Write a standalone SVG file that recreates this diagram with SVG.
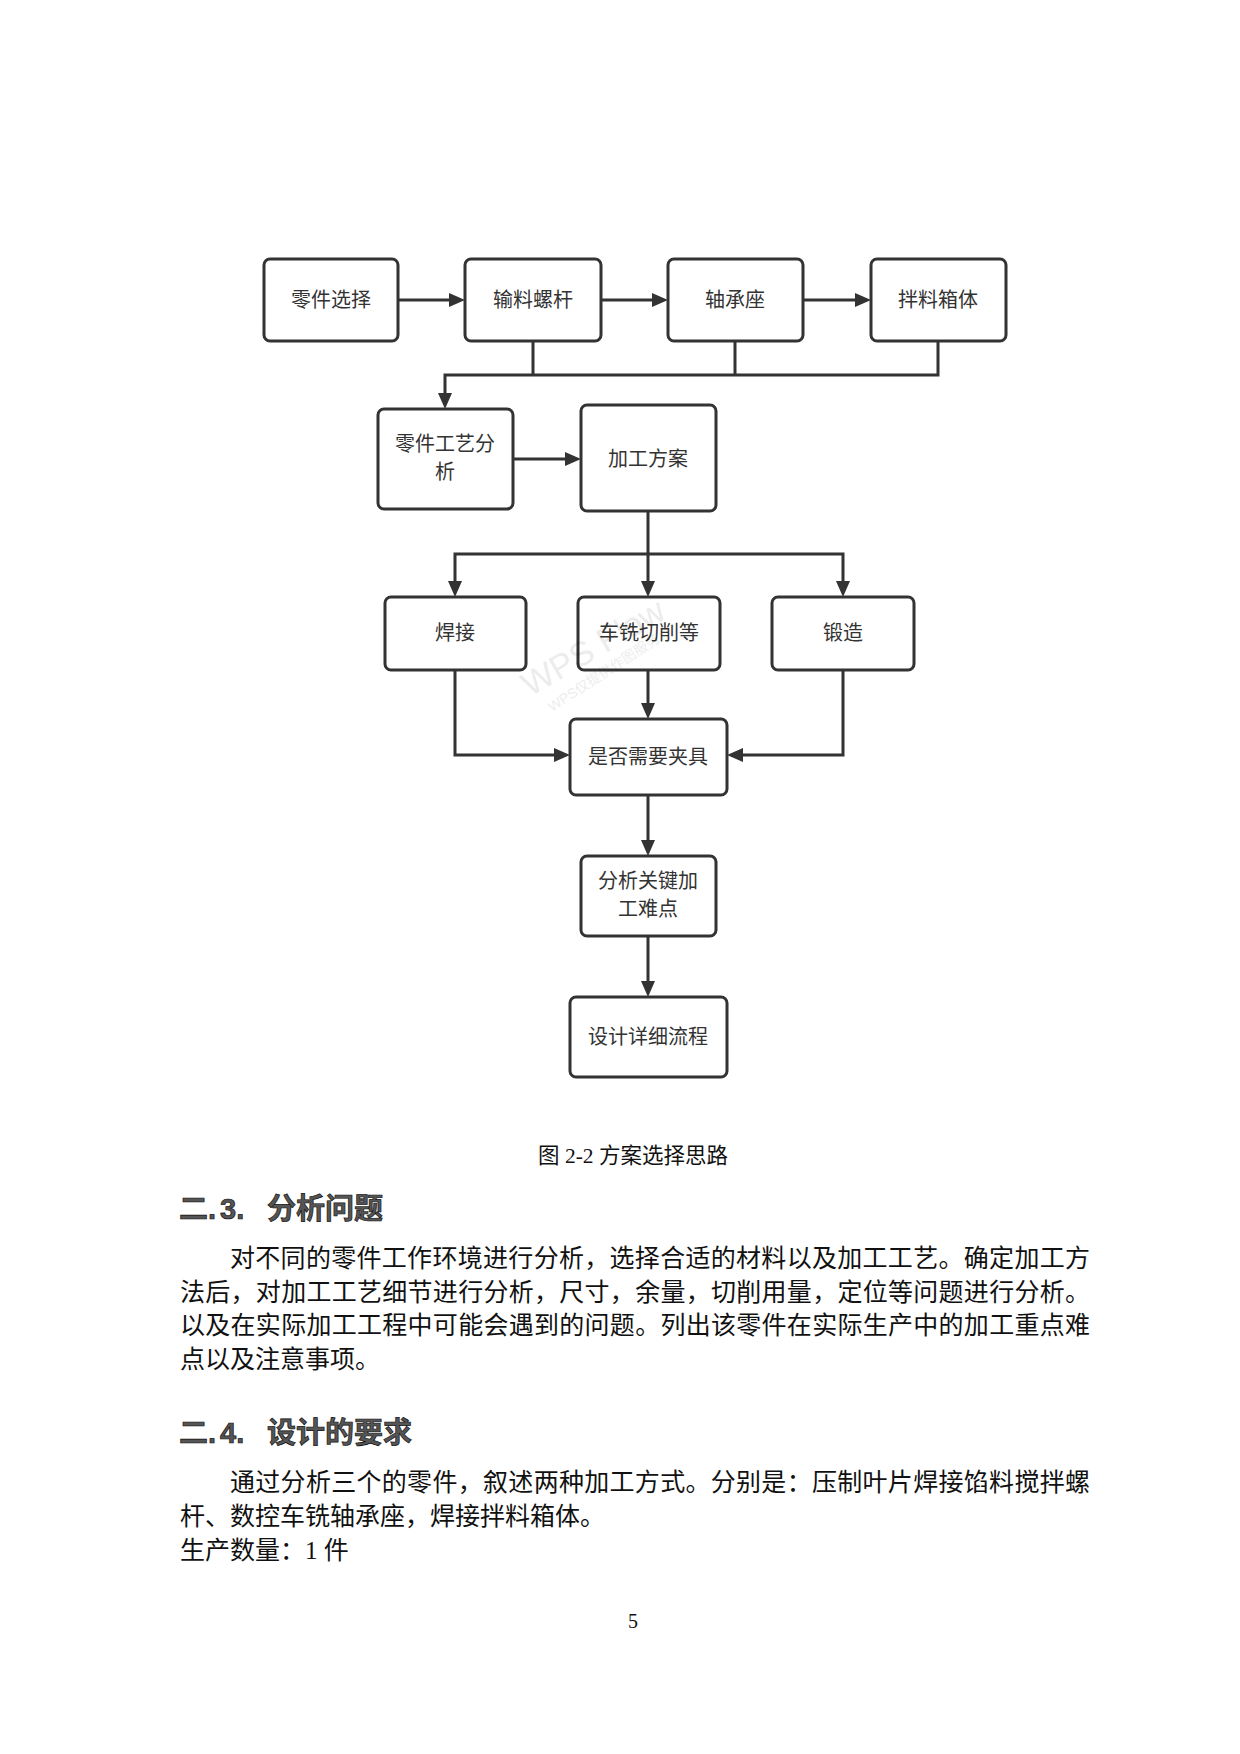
<svg xmlns="http://www.w3.org/2000/svg" width="1240" height="1754" viewBox="0 0 1240 1754">
<style>
.box{fill:#fff;stroke:#333;stroke-width:3}
.lbl{font-family:"Noto Sans CJK SC",sans-serif;font-size:20px;fill:#333;text-anchor:middle}
.ln{fill:none;stroke:#333;stroke-width:3}
.body{font-family:"Liberation Serif","Noto Sans CJK SC",serif;font-size:25px;fill:#111}
.hd{font-family:"Liberation Sans","Noto Sans CJK SC",sans-serif;font-size:29px;font-weight:bold;fill:#555;stroke:#111;stroke-width:0.7}
.wm{font-family:"Liberation Sans","Noto Sans CJK SC",sans-serif;fill:#000;opacity:0.07}
</style>
<defs>
<marker id="ah" markerUnits="userSpaceOnUse" markerWidth="16" markerHeight="14" refX="6" refY="7" orient="auto">
<path d="M0,0 L16,7 L0,14 z" fill="#333"/>
</marker>
</defs>
<rect width="1240" height="1754" fill="#fff"/>

<g id="connectors">
<path class="ln" d="M398,300 H455" marker-end="url(#ah)"/>
<path class="ln" d="M601,300 H658" marker-end="url(#ah)"/>
<path class="ln" d="M803,300 H861" marker-end="url(#ah)"/>
<path class="ln" d="M533,341 V375"/>
<path class="ln" d="M735,341 V375"/>
<path class="ln" d="M938,341 V375 H445 V399" marker-end="url(#ah)"/>
<path class="ln" d="M513,459 H571" marker-end="url(#ah)"/>
<path class="ln" d="M648,511 V587" marker-end="url(#ah)"/>
<path class="ln" d="M648,554 H455 V587" marker-end="url(#ah)"/>
<path class="ln" d="M648,554 H843 V587" marker-end="url(#ah)"/>
<path class="ln" d="M455,670 V755 H560" marker-end="url(#ah)"/>
<path class="ln" d="M648,670 V709" marker-end="url(#ah)"/>
<path class="ln" d="M843,670 V755 H737" marker-end="url(#ah)"/>
<path class="ln" d="M648,795 V846" marker-end="url(#ah)"/>
<path class="ln" d="M648,936 V987" marker-end="url(#ah)"/>
</g>

<g id="n1"><rect class="box" x="264" y="259" width="134" height="82" rx="6"/><text class="lbl" x="331" y="307">零件选择</text></g>
<g id="n2"><rect class="box" x="465" y="259" width="136" height="82" rx="6"/><text class="lbl" x="533" y="307">输料螺杆</text></g>
<g id="n3"><rect class="box" x="668" y="259" width="135" height="82" rx="6"/><text class="lbl" x="735" y="307">轴承座</text></g>
<g id="n4"><rect class="box" x="871" y="259" width="135" height="82" rx="6"/><text class="lbl" x="938" y="307">拌料箱体</text></g>
<g id="n5"><rect class="box" x="378" y="409" width="135" height="100" rx="6"/><text class="lbl" x="445" y="451">零件工艺分</text><text class="lbl" x="445" y="479">析</text></g>
<g id="n6"><rect class="box" x="581" y="405" width="135" height="106" rx="6"/><text class="lbl" x="648" y="466">加工方案</text></g>
<g id="n7"><rect class="box" x="385" y="597" width="141" height="73" rx="6"/><text class="lbl" x="455" y="640">焊接</text></g>
<g id="n8"><rect class="box" x="578" y="597" width="142" height="73" rx="6"/><text class="lbl" x="649" y="640">车铣切削等</text></g>
<g id="n9"><rect class="box" x="772" y="597" width="142" height="73" rx="6"/><text class="lbl" x="843" y="640">锻造</text></g>
<g id="n10"><rect class="box" x="570" y="719" width="157" height="76" rx="6"/><text class="lbl" x="648" y="764">是否需要夹具</text></g>
<g id="n11"><rect class="box" x="581" y="856" width="135" height="80" rx="6"/><text class="lbl" x="648" y="888">分析关键加</text><text class="lbl" x="648" y="916">工难点</text></g>
<g id="n12"><rect class="box" x="570" y="997" width="157" height="80" rx="6"/><text class="lbl" x="648" y="1044">设计详细流程</text></g>

<text class="body" style="font-size:21.5px" x="633" y="1163" text-anchor="middle">图 2-2 方案选择思路</text>

<text class="hd" y="1219"><tspan x="179">二.</tspan><tspan x="220">3.</tspan><tspan x="267">分析问题</tspan></text>
<text class="body" x="230" y="1267" textLength="860" lengthAdjust="spacing">对不同的零件工作环境进行分析，选择合适的材料以及加工工艺。确定加工方</text>
<text class="body" x="180" y="1301" textLength="910" lengthAdjust="spacing">法后，对加工工艺细节进行分析，尺寸，余量，切削用量，定位等问题进行分析。</text>
<text class="body" x="180" y="1334" textLength="910" lengthAdjust="spacing">以及在实际加工工程中可能会遇到的问题。列出该零件在实际生产中的加工重点难</text>
<text class="body" x="180" y="1368">点以及注意事项。</text>

<text class="hd" y="1443"><tspan x="179">二.</tspan><tspan x="220">4.</tspan><tspan x="267">设计的要求</tspan></text>
<text class="body" x="230" y="1491" textLength="860" lengthAdjust="spacing">通过分析三个的零件，叙述两种加工方式。分别是：压制叶片焊接馅料搅拌螺</text>
<text class="body" x="180" y="1525">杆、数控车铣轴承座，焊接拌料箱体。</text>
<text class="body" x="180" y="1559">生产数量：1 件</text>

<text class="body" style="font-size:20px" x="633" y="1628" text-anchor="middle">5</text>

<text class="wm" style="font-size:34px" x="530" y="697" transform="rotate(-30 530 697)">WPS Flow</text>
<text class="wm" style="font-size:14px" x="552" y="712" transform="rotate(-33 552 712)">WPS仅提供作图服务</text>
</svg>
